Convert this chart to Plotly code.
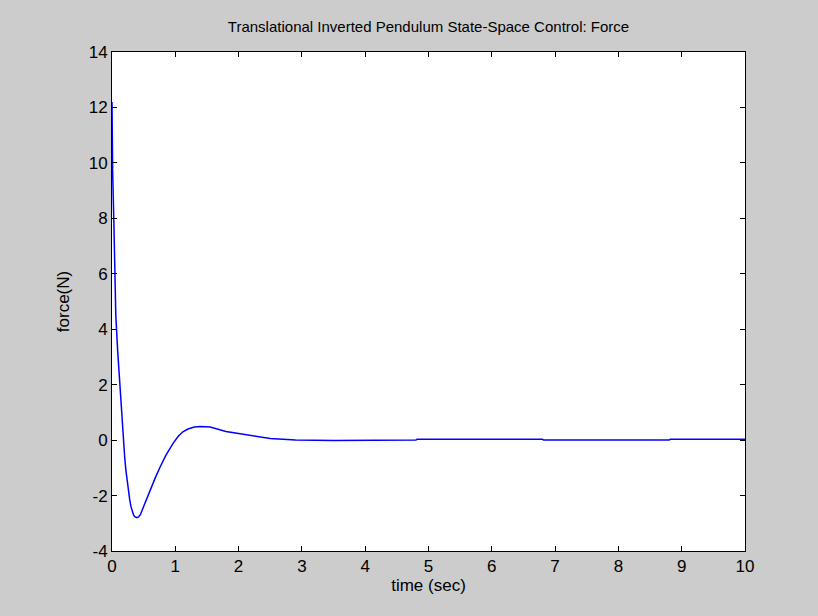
import plotly.graph_objects as go

time_s = [0, 0.01, 0.03, 0.05, 0.06, 0.09, 0.12, 0.15, 0.17, 0.2, 0.22, 0.24, 0.26,
          0.28, 0.3, 0.32, 0.34, 0.36, 0.39, 0.42, 0.45, 0.49, 0.55, 0.6, 0.68,
          0.76, 0.85, 0.97, 1.05, 1.12, 1.2, 1.3, 1.4, 1.55, 1.7, 1.8, 2.0, 2.2,
          2.3, 2.5, 2.7, 2.9, 3.5, 4.0, 4.8, 4.82, 6.8, 6.82, 8.8, 8.82, 10.0]
force_n = [12.2, 9.7, 7.8, 6.0, 4.5, 3.2, 2.1, 1.0, 0.26, -0.6, -1.1, -1.5, -1.85,
           -2.15, -2.4, -2.58, -2.7, -2.76, -2.8, -2.77, -2.68, -2.45, -2.1, -1.8, -1.38,
           -0.97, -0.55, -0.1, 0.15, 0.3, 0.4, 0.47, 0.49, 0.47, 0.38, 0.31, 0.24, 0.16,
           0.12, 0.06, 0.03, 0.0, -0.01, -0.01, 0.0, 0.03, 0.03, 0.0, 0.0, 0.03, 0.03]

x_ticks = list(range(0, 11))
y_ticks = list(range(-4, 15, 2))
y_tick_labels = [str(v) for v in y_ticks]

FONT = "Liberation Sans, Arial, sans-serif"

fig = go.Figure()
fig.add_trace(go.Scatter(x=time_s, y=force_n, mode="lines",
                         line=dict(color="#0000ff", width=1.5), showlegend=False))

axis_common = dict(showline=True, linecolor="black", linewidth=1, mirror="ticks",
                   ticks="inside", ticklen=5, tickcolor="black", showgrid=False,
                   zeroline=False, tickfont=dict(family=FONT, size=17, color="black"))

fig.update_layout(
    width=818, height=616,
    paper_bgcolor="#cccccc", plot_bgcolor="white",
    margin=dict(l=112, r=73, t=52, b=65),
    title=dict(text="Translational Inverted Pendulum State-Space Control: Force",
               x=0.5, xref="paper", y=1 - 27 / 616, yanchor="middle",
               font=dict(family=FONT, size=15, color="black")),
    xaxis=dict(range=[0, 10], tickvals=x_ticks,
               title=dict(text="time (sec)", font=dict(family=FONT, size=17, color="black"), standoff=2),
               **axis_common),
    yaxis=dict(range=[-4, 14], tickvals=y_ticks, ticktext=y_tick_labels,
               title=dict(text="force(N)", font=dict(family=FONT, size=17, color="black"), standoff=14),
               **axis_common),
)

fig.write_html("out.html")
